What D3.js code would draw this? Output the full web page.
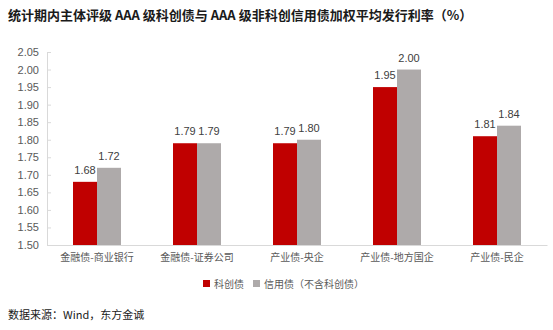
<!DOCTYPE html>
<html>
<head>
<meta charset="utf-8">
<script src="https://cdn.jsdelivr.net/npm/d3@7/dist/d3.min.js"></script>
<style>
  html, body { margin: 0; padding: 0; background: #fff; }
  svg { display: block; }
</style>
</head>
<body>
<svg id="chart" width="553" height="330"></svg>
<script>
// Weighted average issuance rates (%) by issuer category
const categories = ["金融债-商业银行", "金融债-证券公司", "产业债-央企", "产业债-地方国企", "产业债-民企"];
const seriesNames = ["科创债", "信用债（不含科创债）"];
const sciTechRates = [1.68, 1.79, 1.79, 1.95, 1.81];
const creditRates = [1.72, 1.79, 1.80, 2.00, 1.84];
const yTicks = [1.50, 1.55, 1.60, 1.65, 1.70, 1.75, 1.80, 1.85, 1.90, 1.95, 2.00, 2.05];

const colors = ["#C00000", "#AEAAAA"];
const cjk = "'Noto Sans CJK SC', 'Noto Sans', sans-serif";
const num = "'Liberation Sans', Arial, sans-serif";

const svg = d3.select("#chart");
const margin = { left: 47, right: 6, top: 52, bottom: 85 };
const width = 553, height = 330;

const x = d3.scaleBand()
  .domain(categories)
  .range([margin.left, width - margin.right])
  .paddingInner(0)
  .paddingOuter(0);

const y = d3.scaleLinear()
  .domain([1.50, 2.05])
  .range([height - margin.bottom, margin.top]);

const barW = 24;

// Title
svg.append("text")
  .attr("x", 8)
  .attr("y", 20)
  .attr("font-family", cjk)
  .attr("font-weight", "bold")
  .attr("font-size", 13)
  .attr("fill", "#1a1a1a")
  .text("统计期内主体评级 AAA 级科创债与 AAA 级非科创信用债加权平均发行利率（%）");

// Y axis
const yAxis = d3.axisRight(y)
  .tickValues(yTicks)
  .tickSize(4)
  .tickFormat(d3.format(".2f"));
const gy = svg.append("g")
  .attr("transform", `translate(${margin.left},0)`)
  .call(yAxis);
gy.select(".domain").attr("stroke", "#D9D9D9").attr("d", `M0.5,${y(2.05)}V${y(1.50)}`);
gy.selectAll(".tick line").attr("stroke", "#D9D9D9");
gy.selectAll(".tick text")
  .attr("x", -8)
  .attr("text-anchor", "end")
  .attr("font-family", num)
  .attr("font-size", 11)
  .attr("fill", "#595959");

// X axis
const xAxis = d3.axisBottom(x).tickSize(0).tickPadding(9);
const gx = svg.append("g")
  .attr("transform", `translate(0,${y(1.50)})`)
  .call(xAxis);
gx.select(".domain").attr("stroke", "#D9D9D9");
gx.selectAll(".tick text")
  .attr("font-family", cjk)
  .attr("font-size", 10)
  .attr("fill", "#595959");

// Bars with value labels
const series = [sciTechRates, creditRates];
series.forEach((vals, si) => {
  const g = svg.append("g");
  const offset = si === 0 ? -barW : 0;
  g.selectAll("rect")
    .data(vals)
    .join("rect")
    .attr("x", (d, i) => x(categories[i]) + x.bandwidth() / 2 + offset)
    .attr("y", d => y(d))
    .attr("width", barW)
    .attr("height", d => y(1.50) - y(d))
    .attr("fill", colors[si]);
  g.selectAll("text")
    .data(vals)
    .join("text")
    .attr("x", (d, i) => x(categories[i]) + x.bandwidth() / 2 + offset + barW / 2)
    .attr("y", d => y(d) - 8)
    .attr("text-anchor", "middle")
    .attr("font-family", num)
    .attr("font-size", 11)
    .attr("fill", "#404040")
    .text(d => d.toFixed(2));
});

// Legend
const legend = svg.append("g").attr("transform", "translate(203,284)");
let lx = 0;
seriesNames.forEach((name, i) => {
  legend.append("rect")
    .attr("x", lx).attr("y", -4)
    .attr("width", 7).attr("height", 7)
    .attr("fill", colors[i]);
  const t = legend.append("text")
    .attr("x", lx + 11).attr("y", 3.5)
    .attr("font-family", cjk)
    .attr("font-size", 10)
    .attr("fill", "#595959")
    .text(name);
  lx += 11 + t.node().getComputedTextLength() + 9;
});

// Source note
svg.append("text")
  .attr("x", 8)
  .attr("y", 319)
  .attr("font-family", cjk)
  .attr("font-size", 11)
  .attr("fill", "#1a1a1a")
  .text("数据来源：Wind，东方金诚");
</script>
</body>
</html>
